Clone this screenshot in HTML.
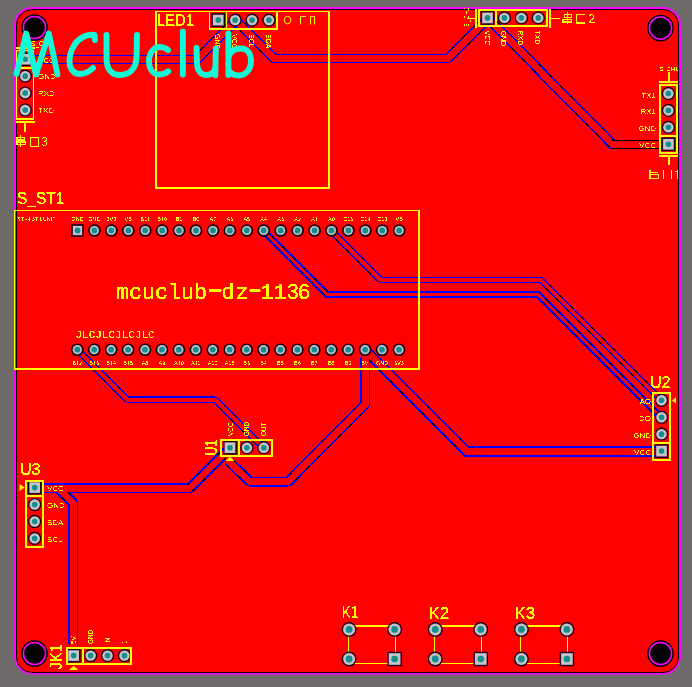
<!DOCTYPE html><html><head><meta charset="utf-8"><style>html,body{margin:0;padding:0;background:#6e6a69;width:692px;height:687px;overflow:hidden}svg{display:block}text{font-family:"Liberation Sans",sans-serif}</style></head><body>
<svg width="692" height="687" viewBox="0 0 692 687">
<defs><filter id="th" x="-10%" y="-10%" width="120%" height="120%" color-interpolation-filters="sRGB"><feComponentTransfer><feFuncA type="discrete" tableValues="0 1"/></feComponentTransfer></filter><filter id="th2" x="-10%" y="-10%" width="120%" height="120%" color-interpolation-filters="sRGB"><feComponentTransfer><feFuncA type="discrete" tableValues="0 0 1"/></feComponentTransfer></filter></defs>
<rect width="692" height="687" fill="#6e6a69"/>
<rect x="15" y="8" width="665" height="665.5" rx="17" fill="none" stroke="#ff00ff" stroke-width="2"/>
<rect x="16.5" y="9.5" width="662" height="663" rx="15.5" fill="#ff0000" stroke="#000" stroke-width="1"/>
<circle cx="34.5" cy="27.5" r="13.3" fill="#000"/><circle cx="34.5" cy="27.5" r="11.1" fill="none" stroke="#ff00ff" stroke-width="1.5"/>
<circle cx="660.5" cy="28" r="13.3" fill="#000"/><circle cx="660.5" cy="28" r="11.1" fill="none" stroke="#ff00ff" stroke-width="1.5"/>
<circle cx="34.5" cy="653.5" r="13.3" fill="#000"/><circle cx="34.5" cy="653.5" r="11.1" fill="none" stroke="#ff00ff" stroke-width="1.5"/>
<circle cx="660.5" cy="653.5" r="13.3" fill="#000"/><circle cx="660.5" cy="653.5" r="11.1" fill="none" stroke="#ff00ff" stroke-width="1.5"/>
<g fill="none" stroke-linejoin="miter" stroke-linecap="butt" shape-rendering="crispEdges">
<polyline points="25.2,59.5 197,59.5 235.1,21.4" stroke="#0000ff" stroke-width="9"/>
<polyline points="235.1,20 273.6,58.5 448,58.5 487.4,19.1" stroke="#0000ff" stroke-width="9"/>
<polyline points="487.4,17.7 612.5,144.5 668.3,144.5" stroke="#0000ff" stroke-width="9"/>
<polyline points="331.3,231 380.3,280 541,280 661.5,400.5" stroke="#0000ff" stroke-width="6"/>
<polyline points="263.7,231 327.2,294.5 538.2,294.5 661.5,417.8" stroke="#0000ff" stroke-width="7"/>
<polyline points="365.2,350 466.7,451.5 661.5,451.5" stroke="#0000ff" stroke-width="11"/>
<polyline points="365.5,350 365.5,404 288.5,481.5 249.5,481.5 229.9,462 229.9,448" stroke="#0000ff" stroke-width="9"/>
<polyline points="230,448 189.5,488.5 34.7,488.5" stroke="#0000ff" stroke-width="9"/>
<polyline points="58.5,488.5 73.5,503.5 73.5,655.6" stroke="#0000ff" stroke-width="9"/>
<polyline points="77.3,349.7 127.6,400 215.3,400 263.5,448.2" stroke="#0000ff" stroke-width="6"/>
<line x1="197" y1="59.5" x2="235.1" y2="21.4" stroke="#0000ff" stroke-width="10"/>
<line x1="197" y1="59.5" x2="235.1" y2="21.4" stroke="#000" stroke-width="9.2" stroke-dasharray="4 11" stroke-dashoffset="6"/>
<line x1="235.1" y1="20" x2="273.6" y2="58.5" stroke="#0000ff" stroke-width="10"/>
<line x1="235.1" y1="20" x2="273.6" y2="58.5" stroke="#000" stroke-width="9.2" stroke-dasharray="4 11" stroke-dashoffset="6"/>
<line x1="448" y1="58.5" x2="487.4" y2="19.1" stroke="#0000ff" stroke-width="10"/>
<line x1="448" y1="58.5" x2="487.4" y2="19.1" stroke="#000" stroke-width="9.2" stroke-dasharray="4 11" stroke-dashoffset="6"/>
<line x1="487.4" y1="17.7" x2="612.5" y2="144.5" stroke="#0000ff" stroke-width="10"/>
<line x1="487.4" y1="17.7" x2="612.5" y2="144.5" stroke="#000" stroke-width="9.2" stroke-dasharray="4 11" stroke-dashoffset="6"/>
<line x1="331.3" y1="231" x2="380.3" y2="280" stroke="#0000ff" stroke-width="7"/>
<line x1="331.3" y1="231" x2="380.3" y2="280" stroke="#000" stroke-width="6.2" stroke-dasharray="4 11" stroke-dashoffset="6"/>
<line x1="541" y1="280" x2="661.5" y2="400.5" stroke="#0000ff" stroke-width="7"/>
<line x1="541" y1="280" x2="661.5" y2="400.5" stroke="#000" stroke-width="6.2" stroke-dasharray="4 11" stroke-dashoffset="6"/>
<line x1="263.7" y1="231" x2="327.2" y2="294.5" stroke="#0000ff" stroke-width="6"/>
<line x1="263.7" y1="231" x2="327.2" y2="294.5" stroke="#000" stroke-width="5.2" stroke-dasharray="4 11" stroke-dashoffset="6"/>
<line x1="538.2" y1="294.5" x2="661.5" y2="417.8" stroke="#0000ff" stroke-width="6"/>
<line x1="538.2" y1="294.5" x2="661.5" y2="417.8" stroke="#000" stroke-width="5.2" stroke-dasharray="4 11" stroke-dashoffset="6"/>
<line x1="365.2" y1="350" x2="466.7" y2="451.5" stroke="#0000ff" stroke-width="10"/>
<line x1="365.2" y1="350" x2="466.7" y2="451.5" stroke="#000" stroke-width="9.2" stroke-dasharray="4 11" stroke-dashoffset="6"/>
<line x1="365.5" y1="404" x2="288.5" y2="481.5" stroke="#0000ff" stroke-width="10"/>
<line x1="365.5" y1="404" x2="288.5" y2="481.5" stroke="#000" stroke-width="9.2" stroke-dasharray="4 11" stroke-dashoffset="6"/>
<line x1="249.5" y1="481.5" x2="229.9" y2="462" stroke="#0000ff" stroke-width="10"/>
<line x1="249.5" y1="481.5" x2="229.9" y2="462" stroke="#000" stroke-width="9.2" stroke-dasharray="4 11" stroke-dashoffset="6"/>
<line x1="230" y1="448" x2="189.5" y2="488.5" stroke="#0000ff" stroke-width="10"/>
<line x1="230" y1="448" x2="189.5" y2="488.5" stroke="#000" stroke-width="9.2" stroke-dasharray="4 11" stroke-dashoffset="6"/>
<line x1="58.5" y1="488.5" x2="73.5" y2="503.5" stroke="#0000ff" stroke-width="10"/>
<line x1="58.5" y1="488.5" x2="73.5" y2="503.5" stroke="#000" stroke-width="9.2" stroke-dasharray="4 11" stroke-dashoffset="6"/>
<line x1="77.3" y1="349.7" x2="127.6" y2="400" stroke="#0000ff" stroke-width="7"/>
<line x1="77.3" y1="349.7" x2="127.6" y2="400" stroke="#000" stroke-width="6.2" stroke-dasharray="4 11" stroke-dashoffset="6"/>
<line x1="215.3" y1="400" x2="263.5" y2="448.2" stroke="#0000ff" stroke-width="7"/>
<line x1="215.3" y1="400" x2="263.5" y2="448.2" stroke="#000" stroke-width="6.2" stroke-dasharray="4 11" stroke-dashoffset="6"/>
<polyline points="25.2,59.5 197,59.5 235.1,21.4" stroke="#ff0000" stroke-width="7"/>
<polyline points="235.1,20 273.6,58.5 448,58.5 487.4,19.1" stroke="#ff0000" stroke-width="7"/>
<polyline points="487.4,17.7 612.5,144.5 668.3,144.5" stroke="#ff0000" stroke-width="7"/>
<polyline points="331.3,231 380.3,280 541,280 661.5,400.5" stroke="#ff0000" stroke-width="4"/>
<polyline points="263.7,231 327.2,294.5 538.2,294.5 661.5,417.8" stroke="#ff0000" stroke-width="3"/>
<polyline points="365.2,350 466.7,451.5 661.5,451.5" stroke="#ff0000" stroke-width="7"/>
<polyline points="365.5,350 365.5,404 288.5,481.5 249.5,481.5 229.9,462 229.9,448" stroke="#ff0000" stroke-width="7"/>
<polyline points="230,448 189.5,488.5 34.7,488.5" stroke="#ff0000" stroke-width="7"/>
<polyline points="58.5,488.5 73.5,503.5 73.5,655.6" stroke="#ff0000" stroke-width="7"/>
<polyline points="77.3,349.7 127.6,400 215.3,400 263.5,448.2" stroke="#ff0000" stroke-width="4"/>
</g>
<rect x="43" y="483" width="144" height="1" fill="#0000ff"/>
<rect x="129" y="396" width="86" height="1" fill="#0000ff"/>
<rect x="360" y="357" width="1" height="45" fill="#0000ff"/>
<rect x="250" y="486" width="38" height="1" fill="#0000ff"/>
<rect x="68" y="504" width="1" height="140" fill="#0000ff"/>
<rect x="612" y="140" width="48" height="1" fill="#000"/>
<rect x="612" y="148" width="48" height="1" fill="#000"/>
<rect x="348" y="625" width="48" height="2" fill="#ffff00"/>
<rect x="348" y="663" width="48" height="1" fill="#ffff00"/>
<rect x="348" y="626" width="1" height="38" fill="#ffff00"/>
<rect x="395" y="626" width="1" height="38" fill="#ffff00"/>
<rect x="434" y="625" width="48" height="2" fill="#ffff00"/>
<rect x="434" y="663" width="48" height="1" fill="#ffff00"/>
<rect x="434" y="626" width="1" height="38" fill="#ffff00"/>
<rect x="481" y="626" width="1" height="38" fill="#ffff00"/>
<rect x="520" y="625" width="48" height="2" fill="#ffff00"/>
<rect x="520" y="663" width="48" height="1" fill="#ffff00"/>
<rect x="520" y="626" width="1" height="38" fill="#ffff00"/>
<rect x="567" y="626" width="1" height="38" fill="#ffff00"/>
<rect x="71.20" y="224.20" width="12.60" height="12.60" fill="#000"/><rect x="72.40" y="225.40" width="10.20" height="10.20" fill="#5a005a"/><rect x="72.90" y="225.90" width="9.20" height="9.20" fill="#c4c4c4"/><circle cx="77.50" cy="230.50" r="2.9" fill="#108f8c"/>
<circle cx="77.30" cy="349.70" r="6.3" fill="#000"/><circle cx="77.30" cy="349.70" r="5.1" fill="#5a005a"/><circle cx="77.30" cy="349.70" r="4.6" fill="#c4c4c4"/><circle cx="77.30" cy="349.70" r="2.9" fill="#108f8c"/>
<circle cx="94.43" cy="230.50" r="6.3" fill="#000"/><circle cx="94.43" cy="230.50" r="5.1" fill="#5a005a"/><circle cx="94.43" cy="230.50" r="4.6" fill="#c4c4c4"/><circle cx="94.43" cy="230.50" r="2.9" fill="#108f8c"/>
<circle cx="94.23" cy="349.70" r="6.3" fill="#000"/><circle cx="94.23" cy="349.70" r="5.1" fill="#5a005a"/><circle cx="94.23" cy="349.70" r="4.6" fill="#c4c4c4"/><circle cx="94.23" cy="349.70" r="2.9" fill="#108f8c"/>
<circle cx="111.36" cy="230.50" r="6.3" fill="#000"/><circle cx="111.36" cy="230.50" r="5.1" fill="#5a005a"/><circle cx="111.36" cy="230.50" r="4.6" fill="#c4c4c4"/><circle cx="111.36" cy="230.50" r="2.9" fill="#108f8c"/>
<circle cx="111.16" cy="349.70" r="6.3" fill="#000"/><circle cx="111.16" cy="349.70" r="5.1" fill="#5a005a"/><circle cx="111.16" cy="349.70" r="4.6" fill="#c4c4c4"/><circle cx="111.16" cy="349.70" r="2.9" fill="#108f8c"/>
<circle cx="128.29" cy="230.50" r="6.3" fill="#000"/><circle cx="128.29" cy="230.50" r="5.1" fill="#5a005a"/><circle cx="128.29" cy="230.50" r="4.6" fill="#c4c4c4"/><circle cx="128.29" cy="230.50" r="2.9" fill="#108f8c"/>
<circle cx="128.09" cy="349.70" r="6.3" fill="#000"/><circle cx="128.09" cy="349.70" r="5.1" fill="#5a005a"/><circle cx="128.09" cy="349.70" r="4.6" fill="#c4c4c4"/><circle cx="128.09" cy="349.70" r="2.9" fill="#108f8c"/>
<circle cx="145.22" cy="230.50" r="6.3" fill="#000"/><circle cx="145.22" cy="230.50" r="5.1" fill="#5a005a"/><circle cx="145.22" cy="230.50" r="4.6" fill="#c4c4c4"/><circle cx="145.22" cy="230.50" r="2.9" fill="#108f8c"/>
<circle cx="145.02" cy="349.70" r="6.3" fill="#000"/><circle cx="145.02" cy="349.70" r="5.1" fill="#5a005a"/><circle cx="145.02" cy="349.70" r="4.6" fill="#c4c4c4"/><circle cx="145.02" cy="349.70" r="2.9" fill="#108f8c"/>
<circle cx="162.15" cy="230.50" r="6.3" fill="#000"/><circle cx="162.15" cy="230.50" r="5.1" fill="#5a005a"/><circle cx="162.15" cy="230.50" r="4.6" fill="#c4c4c4"/><circle cx="162.15" cy="230.50" r="2.9" fill="#108f8c"/>
<circle cx="161.95" cy="349.70" r="6.3" fill="#000"/><circle cx="161.95" cy="349.70" r="5.1" fill="#5a005a"/><circle cx="161.95" cy="349.70" r="4.6" fill="#c4c4c4"/><circle cx="161.95" cy="349.70" r="2.9" fill="#108f8c"/>
<circle cx="179.08" cy="230.50" r="6.3" fill="#000"/><circle cx="179.08" cy="230.50" r="5.1" fill="#5a005a"/><circle cx="179.08" cy="230.50" r="4.6" fill="#c4c4c4"/><circle cx="179.08" cy="230.50" r="2.9" fill="#108f8c"/>
<circle cx="178.88" cy="349.70" r="6.3" fill="#000"/><circle cx="178.88" cy="349.70" r="5.1" fill="#5a005a"/><circle cx="178.88" cy="349.70" r="4.6" fill="#c4c4c4"/><circle cx="178.88" cy="349.70" r="2.9" fill="#108f8c"/>
<circle cx="196.01" cy="230.50" r="6.3" fill="#000"/><circle cx="196.01" cy="230.50" r="5.1" fill="#5a005a"/><circle cx="196.01" cy="230.50" r="4.6" fill="#c4c4c4"/><circle cx="196.01" cy="230.50" r="2.9" fill="#108f8c"/>
<circle cx="195.81" cy="349.70" r="6.3" fill="#000"/><circle cx="195.81" cy="349.70" r="5.1" fill="#5a005a"/><circle cx="195.81" cy="349.70" r="4.6" fill="#c4c4c4"/><circle cx="195.81" cy="349.70" r="2.9" fill="#108f8c"/>
<circle cx="212.94" cy="230.50" r="6.3" fill="#000"/><circle cx="212.94" cy="230.50" r="5.1" fill="#5a005a"/><circle cx="212.94" cy="230.50" r="4.6" fill="#c4c4c4"/><circle cx="212.94" cy="230.50" r="2.9" fill="#108f8c"/>
<circle cx="212.74" cy="349.70" r="6.3" fill="#000"/><circle cx="212.74" cy="349.70" r="5.1" fill="#5a005a"/><circle cx="212.74" cy="349.70" r="4.6" fill="#c4c4c4"/><circle cx="212.74" cy="349.70" r="2.9" fill="#108f8c"/>
<circle cx="229.87" cy="230.50" r="6.3" fill="#000"/><circle cx="229.87" cy="230.50" r="5.1" fill="#5a005a"/><circle cx="229.87" cy="230.50" r="4.6" fill="#c4c4c4"/><circle cx="229.87" cy="230.50" r="2.9" fill="#108f8c"/>
<circle cx="229.67" cy="349.70" r="6.3" fill="#000"/><circle cx="229.67" cy="349.70" r="5.1" fill="#5a005a"/><circle cx="229.67" cy="349.70" r="4.6" fill="#c4c4c4"/><circle cx="229.67" cy="349.70" r="2.9" fill="#108f8c"/>
<circle cx="246.80" cy="230.50" r="6.3" fill="#000"/><circle cx="246.80" cy="230.50" r="5.1" fill="#5a005a"/><circle cx="246.80" cy="230.50" r="4.6" fill="#c4c4c4"/><circle cx="246.80" cy="230.50" r="2.9" fill="#108f8c"/>
<circle cx="246.60" cy="349.70" r="6.3" fill="#000"/><circle cx="246.60" cy="349.70" r="5.1" fill="#5a005a"/><circle cx="246.60" cy="349.70" r="4.6" fill="#c4c4c4"/><circle cx="246.60" cy="349.70" r="2.9" fill="#108f8c"/>
<circle cx="263.73" cy="230.50" r="6.3" fill="#000"/><circle cx="263.73" cy="230.50" r="5.1" fill="#5a005a"/><circle cx="263.73" cy="230.50" r="4.6" fill="#c4c4c4"/><circle cx="263.73" cy="230.50" r="2.9" fill="#108f8c"/>
<circle cx="263.53" cy="349.70" r="6.3" fill="#000"/><circle cx="263.53" cy="349.70" r="5.1" fill="#5a005a"/><circle cx="263.53" cy="349.70" r="4.6" fill="#c4c4c4"/><circle cx="263.53" cy="349.70" r="2.9" fill="#108f8c"/>
<circle cx="280.66" cy="230.50" r="6.3" fill="#000"/><circle cx="280.66" cy="230.50" r="5.1" fill="#5a005a"/><circle cx="280.66" cy="230.50" r="4.6" fill="#c4c4c4"/><circle cx="280.66" cy="230.50" r="2.9" fill="#108f8c"/>
<circle cx="280.46" cy="349.70" r="6.3" fill="#000"/><circle cx="280.46" cy="349.70" r="5.1" fill="#5a005a"/><circle cx="280.46" cy="349.70" r="4.6" fill="#c4c4c4"/><circle cx="280.46" cy="349.70" r="2.9" fill="#108f8c"/>
<circle cx="297.59" cy="230.50" r="6.3" fill="#000"/><circle cx="297.59" cy="230.50" r="5.1" fill="#5a005a"/><circle cx="297.59" cy="230.50" r="4.6" fill="#c4c4c4"/><circle cx="297.59" cy="230.50" r="2.9" fill="#108f8c"/>
<circle cx="297.39" cy="349.70" r="6.3" fill="#000"/><circle cx="297.39" cy="349.70" r="5.1" fill="#5a005a"/><circle cx="297.39" cy="349.70" r="4.6" fill="#c4c4c4"/><circle cx="297.39" cy="349.70" r="2.9" fill="#108f8c"/>
<circle cx="314.52" cy="230.50" r="6.3" fill="#000"/><circle cx="314.52" cy="230.50" r="5.1" fill="#5a005a"/><circle cx="314.52" cy="230.50" r="4.6" fill="#c4c4c4"/><circle cx="314.52" cy="230.50" r="2.9" fill="#108f8c"/>
<circle cx="314.32" cy="349.70" r="6.3" fill="#000"/><circle cx="314.32" cy="349.70" r="5.1" fill="#5a005a"/><circle cx="314.32" cy="349.70" r="4.6" fill="#c4c4c4"/><circle cx="314.32" cy="349.70" r="2.9" fill="#108f8c"/>
<circle cx="331.45" cy="230.50" r="6.3" fill="#000"/><circle cx="331.45" cy="230.50" r="5.1" fill="#5a005a"/><circle cx="331.45" cy="230.50" r="4.6" fill="#c4c4c4"/><circle cx="331.45" cy="230.50" r="2.9" fill="#108f8c"/>
<circle cx="331.25" cy="349.70" r="6.3" fill="#000"/><circle cx="331.25" cy="349.70" r="5.1" fill="#5a005a"/><circle cx="331.25" cy="349.70" r="4.6" fill="#c4c4c4"/><circle cx="331.25" cy="349.70" r="2.9" fill="#108f8c"/>
<circle cx="348.38" cy="230.50" r="6.3" fill="#000"/><circle cx="348.38" cy="230.50" r="5.1" fill="#5a005a"/><circle cx="348.38" cy="230.50" r="4.6" fill="#c4c4c4"/><circle cx="348.38" cy="230.50" r="2.9" fill="#108f8c"/>
<circle cx="348.18" cy="349.70" r="6.3" fill="#000"/><circle cx="348.18" cy="349.70" r="5.1" fill="#5a005a"/><circle cx="348.18" cy="349.70" r="4.6" fill="#c4c4c4"/><circle cx="348.18" cy="349.70" r="2.9" fill="#108f8c"/>
<circle cx="365.31" cy="230.50" r="6.3" fill="#000"/><circle cx="365.31" cy="230.50" r="5.1" fill="#5a005a"/><circle cx="365.31" cy="230.50" r="4.6" fill="#c4c4c4"/><circle cx="365.31" cy="230.50" r="2.9" fill="#108f8c"/>
<circle cx="365.11" cy="349.70" r="6.3" fill="#000"/><circle cx="365.11" cy="349.70" r="5.1" fill="#5a005a"/><circle cx="365.11" cy="349.70" r="4.6" fill="#c4c4c4"/><circle cx="365.11" cy="349.70" r="2.9" fill="#108f8c"/>
<circle cx="382.24" cy="230.50" r="6.3" fill="#000"/><circle cx="382.24" cy="230.50" r="5.1" fill="#5a005a"/><circle cx="382.24" cy="230.50" r="4.6" fill="#c4c4c4"/><circle cx="382.24" cy="230.50" r="2.9" fill="#108f8c"/>
<circle cx="382.04" cy="349.70" r="6.3" fill="#000"/><circle cx="382.04" cy="349.70" r="5.1" fill="#5a005a"/><circle cx="382.04" cy="349.70" r="4.6" fill="#c4c4c4"/><circle cx="382.04" cy="349.70" r="2.9" fill="#108f8c"/>
<circle cx="399.17" cy="230.50" r="6.3" fill="#000"/><circle cx="399.17" cy="230.50" r="5.1" fill="#5a005a"/><circle cx="399.17" cy="230.50" r="4.6" fill="#c4c4c4"/><circle cx="399.17" cy="230.50" r="2.9" fill="#108f8c"/>
<circle cx="398.97" cy="349.70" r="6.3" fill="#000"/><circle cx="398.97" cy="349.70" r="5.1" fill="#5a005a"/><circle cx="398.97" cy="349.70" r="4.6" fill="#c4c4c4"/><circle cx="398.97" cy="349.70" r="2.9" fill="#108f8c"/>
<rect x="211.40" y="13.30" width="13.60" height="13.60" fill="#000"/><rect x="212.40" y="14.30" width="11.60" height="11.60" fill="#5a005a"/><rect x="212.90" y="14.80" width="10.60" height="10.60" fill="#c4c4c4"/><circle cx="218.20" cy="20.10" r="2.8" fill="#108f8c"/>
<rect x="480.70" y="11.10" width="13.60" height="13.60" fill="#000"/><rect x="481.70" y="12.10" width="11.60" height="11.60" fill="#5a005a"/><rect x="482.20" y="12.60" width="10.60" height="10.60" fill="#c4c4c4"/><circle cx="487.50" cy="17.90" r="2.8" fill="#108f8c"/>
<circle cx="668.40" cy="93.50" r="6.6" fill="#000"/><circle cx="668.40" cy="93.50" r="5.7" fill="#5a005a"/><circle cx="668.40" cy="93.50" r="5.2" fill="#c4c4c4"/><circle cx="668.40" cy="93.50" r="2.8" fill="#108f8c"/>
<rect x="18.40" y="52.40" width="13.60" height="13.60" fill="#000"/><rect x="19.40" y="53.40" width="11.60" height="11.60" fill="#5a005a"/><rect x="19.90" y="53.90" width="10.60" height="10.60" fill="#c4c4c4"/><circle cx="25.20" cy="59.20" r="2.8" fill="#108f8c"/>
<circle cx="661.50" cy="400.30" r="6.6" fill="#000"/><circle cx="661.50" cy="400.30" r="5.7" fill="#5a005a"/><circle cx="661.50" cy="400.30" r="5.2" fill="#c4c4c4"/><circle cx="661.50" cy="400.30" r="2.8" fill="#108f8c"/>
<rect x="27.90" y="480.80" width="13.60" height="13.60" fill="#000"/><rect x="28.90" y="481.80" width="11.60" height="11.60" fill="#5a005a"/><rect x="29.40" y="482.30" width="10.60" height="10.60" fill="#c4c4c4"/><circle cx="34.70" cy="487.60" r="2.8" fill="#108f8c"/>
<rect x="66.90" y="648.80" width="13.60" height="13.60" fill="#000"/><rect x="67.90" y="649.80" width="11.60" height="11.60" fill="#5a005a"/><rect x="68.40" y="650.30" width="10.60" height="10.60" fill="#c4c4c4"/><circle cx="73.70" cy="655.60" r="2.8" fill="#108f8c"/>
<circle cx="235.13" cy="20.10" r="6.6" fill="#000"/><circle cx="235.13" cy="20.10" r="5.7" fill="#5a005a"/><circle cx="235.13" cy="20.10" r="5.2" fill="#c4c4c4"/><circle cx="235.13" cy="20.10" r="2.8" fill="#108f8c"/>
<circle cx="504.43" cy="17.90" r="6.6" fill="#000"/><circle cx="504.43" cy="17.90" r="5.7" fill="#5a005a"/><circle cx="504.43" cy="17.90" r="5.2" fill="#c4c4c4"/><circle cx="504.43" cy="17.90" r="2.8" fill="#108f8c"/>
<circle cx="668.40" cy="110.43" r="6.6" fill="#000"/><circle cx="668.40" cy="110.43" r="5.7" fill="#5a005a"/><circle cx="668.40" cy="110.43" r="5.2" fill="#c4c4c4"/><circle cx="668.40" cy="110.43" r="2.8" fill="#108f8c"/>
<circle cx="25.20" cy="76.13" r="6.6" fill="#000"/><circle cx="25.20" cy="76.13" r="5.7" fill="#5a005a"/><circle cx="25.20" cy="76.13" r="5.2" fill="#c4c4c4"/><circle cx="25.20" cy="76.13" r="2.8" fill="#108f8c"/>
<circle cx="661.50" cy="417.23" r="6.6" fill="#000"/><circle cx="661.50" cy="417.23" r="5.7" fill="#5a005a"/><circle cx="661.50" cy="417.23" r="5.2" fill="#c4c4c4"/><circle cx="661.50" cy="417.23" r="2.8" fill="#108f8c"/>
<circle cx="34.70" cy="504.53" r="6.6" fill="#000"/><circle cx="34.70" cy="504.53" r="5.7" fill="#5a005a"/><circle cx="34.70" cy="504.53" r="5.2" fill="#c4c4c4"/><circle cx="34.70" cy="504.53" r="2.8" fill="#108f8c"/>
<circle cx="90.63" cy="655.60" r="6.6" fill="#000"/><circle cx="90.63" cy="655.60" r="5.7" fill="#5a005a"/><circle cx="90.63" cy="655.60" r="5.2" fill="#c4c4c4"/><circle cx="90.63" cy="655.60" r="2.8" fill="#108f8c"/>
<circle cx="252.06" cy="20.10" r="6.6" fill="#000"/><circle cx="252.06" cy="20.10" r="5.7" fill="#5a005a"/><circle cx="252.06" cy="20.10" r="5.2" fill="#c4c4c4"/><circle cx="252.06" cy="20.10" r="2.8" fill="#108f8c"/>
<circle cx="521.36" cy="17.90" r="6.6" fill="#000"/><circle cx="521.36" cy="17.90" r="5.7" fill="#5a005a"/><circle cx="521.36" cy="17.90" r="5.2" fill="#c4c4c4"/><circle cx="521.36" cy="17.90" r="2.8" fill="#108f8c"/>
<circle cx="668.40" cy="127.36" r="6.6" fill="#000"/><circle cx="668.40" cy="127.36" r="5.7" fill="#5a005a"/><circle cx="668.40" cy="127.36" r="5.2" fill="#c4c4c4"/><circle cx="668.40" cy="127.36" r="2.8" fill="#108f8c"/>
<circle cx="25.20" cy="93.06" r="6.6" fill="#000"/><circle cx="25.20" cy="93.06" r="5.7" fill="#5a005a"/><circle cx="25.20" cy="93.06" r="5.2" fill="#c4c4c4"/><circle cx="25.20" cy="93.06" r="2.8" fill="#108f8c"/>
<circle cx="661.50" cy="434.16" r="6.6" fill="#000"/><circle cx="661.50" cy="434.16" r="5.7" fill="#5a005a"/><circle cx="661.50" cy="434.16" r="5.2" fill="#c4c4c4"/><circle cx="661.50" cy="434.16" r="2.8" fill="#108f8c"/>
<circle cx="34.70" cy="521.46" r="6.6" fill="#000"/><circle cx="34.70" cy="521.46" r="5.7" fill="#5a005a"/><circle cx="34.70" cy="521.46" r="5.2" fill="#c4c4c4"/><circle cx="34.70" cy="521.46" r="2.8" fill="#108f8c"/>
<circle cx="107.56" cy="655.60" r="6.6" fill="#000"/><circle cx="107.56" cy="655.60" r="5.7" fill="#5a005a"/><circle cx="107.56" cy="655.60" r="5.2" fill="#c4c4c4"/><circle cx="107.56" cy="655.60" r="2.8" fill="#108f8c"/>
<circle cx="268.99" cy="20.10" r="6.6" fill="#000"/><circle cx="268.99" cy="20.10" r="5.7" fill="#5a005a"/><circle cx="268.99" cy="20.10" r="5.2" fill="#c4c4c4"/><circle cx="268.99" cy="20.10" r="2.8" fill="#108f8c"/>
<circle cx="538.29" cy="17.90" r="6.6" fill="#000"/><circle cx="538.29" cy="17.90" r="5.7" fill="#5a005a"/><circle cx="538.29" cy="17.90" r="5.2" fill="#c4c4c4"/><circle cx="538.29" cy="17.90" r="2.8" fill="#108f8c"/>
<rect x="661.60" y="137.49" width="13.60" height="13.60" fill="#000"/><rect x="662.60" y="138.49" width="11.60" height="11.60" fill="#5a005a"/><rect x="663.10" y="138.99" width="10.60" height="10.60" fill="#c4c4c4"/><circle cx="668.40" cy="144.29" r="2.8" fill="#108f8c"/>
<circle cx="25.20" cy="109.99" r="6.6" fill="#000"/><circle cx="25.20" cy="109.99" r="5.7" fill="#5a005a"/><circle cx="25.20" cy="109.99" r="5.2" fill="#c4c4c4"/><circle cx="25.20" cy="109.99" r="2.8" fill="#108f8c"/>
<rect x="654.70" y="444.29" width="13.60" height="13.60" fill="#000"/><rect x="655.70" y="445.29" width="11.60" height="11.60" fill="#5a005a"/><rect x="656.20" y="445.79" width="10.60" height="10.60" fill="#c4c4c4"/><circle cx="661.50" cy="451.09" r="2.8" fill="#108f8c"/>
<circle cx="34.70" cy="538.39" r="6.6" fill="#000"/><circle cx="34.70" cy="538.39" r="5.7" fill="#5a005a"/><circle cx="34.70" cy="538.39" r="5.2" fill="#c4c4c4"/><circle cx="34.70" cy="538.39" r="2.8" fill="#108f8c"/>
<circle cx="124.49" cy="655.60" r="6.6" fill="#000"/><circle cx="124.49" cy="655.60" r="5.7" fill="#5a005a"/><circle cx="124.49" cy="655.60" r="5.2" fill="#c4c4c4"/><circle cx="124.49" cy="655.60" r="2.8" fill="#108f8c"/>
<rect x="223.20" y="440.90" width="13.60" height="13.60" fill="#000"/><rect x="224.20" y="441.90" width="11.60" height="11.60" fill="#5a005a"/><rect x="224.70" y="442.40" width="10.60" height="10.60" fill="#c4c4c4"/><circle cx="230.00" cy="447.70" r="2.8" fill="#108f8c"/>
<circle cx="246.93" cy="447.70" r="6.6" fill="#000"/><circle cx="246.93" cy="447.70" r="5.7" fill="#5a005a"/><circle cx="246.93" cy="447.70" r="5.2" fill="#c4c4c4"/><circle cx="246.93" cy="447.70" r="2.8" fill="#108f8c"/>
<circle cx="263.86" cy="447.70" r="6.6" fill="#000"/><circle cx="263.86" cy="447.70" r="5.7" fill="#5a005a"/><circle cx="263.86" cy="447.70" r="5.2" fill="#c4c4c4"/><circle cx="263.86" cy="447.70" r="2.8" fill="#108f8c"/>
<circle cx="349.10" cy="629.40" r="7.4" fill="#000"/><circle cx="349.10" cy="629.40" r="6.5" fill="#5a005a"/><circle cx="349.10" cy="629.40" r="6.0" fill="#c4c4c4"/><circle cx="349.10" cy="629.40" r="3.4" fill="#108f8c"/>
<circle cx="394.60" cy="629.40" r="7.4" fill="#000"/><circle cx="394.60" cy="629.40" r="6.5" fill="#5a005a"/><circle cx="394.60" cy="629.40" r="6.0" fill="#c4c4c4"/><circle cx="394.60" cy="629.40" r="3.4" fill="#108f8c"/>
<circle cx="349.10" cy="659.00" r="7.4" fill="#000"/><circle cx="349.10" cy="659.00" r="6.5" fill="#5a005a"/><circle cx="349.10" cy="659.00" r="6.0" fill="#c4c4c4"/><circle cx="349.10" cy="659.00" r="3.4" fill="#108f8c"/>
<rect x="387.40" y="651.80" width="14.40" height="14.40" fill="#000"/><rect x="388.30" y="652.70" width="12.60" height="12.60" fill="#5a005a"/><rect x="388.80" y="653.20" width="11.60" height="11.60" fill="#c4c4c4"/><circle cx="394.60" cy="659.00" r="3.3" fill="#108f8c"/>
<circle cx="435.25" cy="629.40" r="7.4" fill="#000"/><circle cx="435.25" cy="629.40" r="6.5" fill="#5a005a"/><circle cx="435.25" cy="629.40" r="6.0" fill="#c4c4c4"/><circle cx="435.25" cy="629.40" r="3.4" fill="#108f8c"/>
<circle cx="480.75" cy="629.40" r="7.4" fill="#000"/><circle cx="480.75" cy="629.40" r="6.5" fill="#5a005a"/><circle cx="480.75" cy="629.40" r="6.0" fill="#c4c4c4"/><circle cx="480.75" cy="629.40" r="3.4" fill="#108f8c"/>
<circle cx="435.25" cy="659.00" r="7.4" fill="#000"/><circle cx="435.25" cy="659.00" r="6.5" fill="#5a005a"/><circle cx="435.25" cy="659.00" r="6.0" fill="#c4c4c4"/><circle cx="435.25" cy="659.00" r="3.4" fill="#108f8c"/>
<rect x="473.55" y="651.80" width="14.40" height="14.40" fill="#000"/><rect x="474.45" y="652.70" width="12.60" height="12.60" fill="#5a005a"/><rect x="474.95" y="653.20" width="11.60" height="11.60" fill="#c4c4c4"/><circle cx="480.75" cy="659.00" r="3.3" fill="#108f8c"/>
<circle cx="521.40" cy="629.40" r="7.4" fill="#000"/><circle cx="521.40" cy="629.40" r="6.5" fill="#5a005a"/><circle cx="521.40" cy="629.40" r="6.0" fill="#c4c4c4"/><circle cx="521.40" cy="629.40" r="3.4" fill="#108f8c"/>
<circle cx="566.90" cy="629.40" r="7.4" fill="#000"/><circle cx="566.90" cy="629.40" r="6.5" fill="#5a005a"/><circle cx="566.90" cy="629.40" r="6.0" fill="#c4c4c4"/><circle cx="566.90" cy="629.40" r="3.4" fill="#108f8c"/>
<circle cx="521.40" cy="659.00" r="7.4" fill="#000"/><circle cx="521.40" cy="659.00" r="6.5" fill="#5a005a"/><circle cx="521.40" cy="659.00" r="6.0" fill="#c4c4c4"/><circle cx="521.40" cy="659.00" r="3.4" fill="#108f8c"/>
<rect x="559.70" y="651.80" width="14.40" height="14.40" fill="#000"/><rect x="560.60" y="652.70" width="12.60" height="12.60" fill="#5a005a"/><rect x="561.10" y="653.20" width="11.60" height="11.60" fill="#c4c4c4"/><circle cx="566.90" cy="659.00" r="3.3" fill="#108f8c"/>
<rect x="155" y="11" width="175" height="1" fill="#ffff00"/>
<rect x="155" y="187" width="175" height="2" fill="#ffff00"/>
<rect x="155" y="11" width="2" height="178" fill="#ffff00"/>
<rect x="328" y="11" width="2" height="178" fill="#ffff00"/>
<rect x="209" y="11" width="69" height="1" fill="#ffff00"/>
<rect x="209" y="28" width="69" height="2" fill="#ffff00"/>
<rect x="209" y="11" width="1" height="19" fill="#ffff00"/>
<rect x="276" y="11" width="2" height="19" fill="#ffff00"/>
<rect x="226" y="11" width="1" height="19" fill="#ffff00"/>
<rect x="478" y="9" width="70" height="2" fill="#ffff00"/>
<rect x="478" y="25" width="70" height="2" fill="#ffff00"/>
<rect x="478" y="9" width="2" height="18" fill="#ffff00"/>
<rect x="546" y="9" width="2" height="18" fill="#ffff00"/>
<rect x="495" y="9" width="2" height="18" fill="#ffff00"/>
<rect x="475" y="9" width="2" height="19" fill="#ffff00"/>
<rect x="549" y="9" width="2" height="19" fill="#ffff00"/>
<rect x="467" y="18" width="8" height="1" fill="#ffff00"/>
<rect x="551" y="18" width="9" height="1" fill="#ffff00"/>
<rect x="659" y="84" width="19" height="2" fill="#ffff00"/>
<rect x="659" y="152" width="19" height="2" fill="#ffff00"/>
<rect x="659" y="84" width="2" height="70" fill="#ffff00"/>
<rect x="676" y="84" width="2" height="70" fill="#ffff00"/>
<rect x="659" y="135" width="19" height="2" fill="#ffff00"/>
<rect x="659" y="81" width="19" height="2" fill="#ffff00"/>
<rect x="659" y="155" width="19" height="2" fill="#ffff00"/>
<rect x="668" y="72" width="2" height="9" fill="#ffff00"/>
<rect x="668" y="157" width="2" height="8" fill="#ffff00"/>
<rect x="16" y="50" width="18" height="1" fill="#ffff00"/>
<rect x="16" y="118" width="18" height="2" fill="#ffff00"/>
<rect x="16" y="50" width="1" height="70" fill="#ffff00"/>
<rect x="33" y="50" width="1" height="70" fill="#ffff00"/>
<rect x="16" y="67" width="18" height="2" fill="#ffff00"/>
<rect x="16" y="47" width="19" height="2" fill="#ffff00"/>
<rect x="16" y="121" width="19" height="2" fill="#ffff00"/>
<rect x="24" y="123" width="2" height="9" fill="#ffff00"/>
<rect x="14" y="210" width="406" height="1" fill="#ffff00"/>
<rect x="14" y="368" width="406" height="2" fill="#ffff00"/>
<rect x="14" y="210" width="1" height="160" fill="#ffff00"/>
<rect x="418" y="210" width="2" height="160" fill="#ffff00"/>
<rect x="652" y="392" width="19" height="2" fill="#ffff00"/>
<rect x="652" y="459" width="19" height="2" fill="#ffff00"/>
<rect x="652" y="392" width="2" height="69" fill="#ffff00"/>
<rect x="669" y="392" width="2" height="69" fill="#ffff00"/>
<rect x="652" y="442" width="19" height="2" fill="#ffff00"/>
<rect x="25" y="480" width="19" height="2" fill="#ffff00"/>
<rect x="25" y="546" width="19" height="2" fill="#ffff00"/>
<rect x="25" y="480" width="2" height="68" fill="#ffff00"/>
<rect x="42" y="480" width="2" height="68" fill="#ffff00"/>
<rect x="25" y="495" width="19" height="2" fill="#ffff00"/>
<rect x="220" y="439" width="53" height="2" fill="#ffff00"/>
<rect x="220" y="455" width="53" height="2" fill="#ffff00"/>
<rect x="220" y="439" width="2" height="18" fill="#ffff00"/>
<rect x="271" y="439" width="2" height="18" fill="#ffff00"/>
<rect x="238" y="439" width="2" height="18" fill="#ffff00"/>
<rect x="66" y="647" width="66" height="2" fill="#ffff00"/>
<rect x="66" y="663" width="66" height="2" fill="#ffff00"/>
<rect x="66" y="647" width="2" height="18" fill="#ffff00"/>
<rect x="130" y="647" width="2" height="18" fill="#ffff00"/>
<rect x="82" y="647" width="2" height="18" fill="#ffff00"/>
<rect x="567" y="12" width="1" height="12" fill="#ffff00"/>
<rect x="564" y="14" width="8" height="1" fill="#ffff00"/>
<rect x="564" y="17" width="8" height="1" fill="#ffff00"/>
<rect x="564" y="14" width="1" height="4" fill="#ffff00"/>
<rect x="571" y="14" width="1" height="4" fill="#ffff00"/>
<rect x="562" y="19" width="10" height="1" fill="#ffff00"/>
<rect x="562" y="21" width="10" height="2" fill="#ffff00"/>
<rect x="562" y="19" width="2" height="4" fill="#ffff00"/>
<rect x="571" y="19" width="1" height="4" fill="#ffff00"/>
<rect x="576" y="14" width="9" height="1" fill="#ffff00"/>
<rect x="576" y="22" width="9" height="2" fill="#ffff00"/>
<rect x="576" y="14" width="1" height="10" fill="#ffff00"/>
<rect x="20" y="135" width="1" height="12" fill="#ffff00"/>
<rect x="16" y="137" width="9" height="1" fill="#ffff00"/>
<rect x="16" y="139" width="9" height="2" fill="#ffff00"/>
<rect x="16" y="137" width="2" height="4" fill="#ffff00"/>
<rect x="24" y="137" width="1" height="4" fill="#ffff00"/>
<rect x="16" y="141" width="10" height="2" fill="#ffff00"/>
<rect x="16" y="144" width="10" height="1" fill="#ffff00"/>
<rect x="16" y="141" width="2" height="4" fill="#ffff00"/>
<rect x="25" y="141" width="1" height="4" fill="#ffff00"/>
<rect x="30" y="137" width="9" height="1" fill="#ffff00"/>
<rect x="30" y="146" width="9" height="1" fill="#ffff00"/>
<rect x="30" y="137" width="1" height="10" fill="#ffff00"/>
<rect x="38" y="137" width="1" height="10" fill="#ffff00"/>
<rect x="649" y="170" width="2" height="4" fill="#ffff00"/>
<rect x="649" y="172" width="9" height="1" fill="#ffff00"/>
<rect x="649" y="174" width="10" height="1" fill="#ffff00"/>
<rect x="649" y="178" width="10" height="1" fill="#ffff00"/>
<rect x="649" y="174" width="2" height="5" fill="#ffff00"/>
<rect x="658" y="174" width="1" height="5" fill="#ffff00"/>
<rect x="663" y="170" width="1" height="9" fill="#ffff00"/>
<rect x="671" y="170" width="1" height="9" fill="#ffff00"/>
<rect x="677" y="170" width="1" height="9" fill="#ffff00"/>
<rect x="675" y="171" width="2" height="1" fill="#ffff00"/>
<g fill="#ffff00"><polygon points="672,400.4 676,397.2 676,403.6"/><polygon points="19.5,484 24.5,487.6 19.5,491"/><polygon points="225.5,461 230,456.8 234.5,461"/><polygon points="69.2,670 73.7,665.8 78.2,670"/></g>
<g fill="#ffff00" stroke="#ffff00" stroke-width="0.25" filter="url(#th)">
<text x="157" y="25.8" font-size="16.6" textLength="37" lengthAdjust="spacingAndGlyphs">LED1</text>
<text x="17" y="204" font-size="16" textLength="47.5" lengthAdjust="spacingAndGlyphs">S_ST1</text>
<text x="650" y="387.8" font-size="16">U2</text>
<text x="20" y="474.7" font-size="16">U3</text>
<text x="341.8" y="618.2" font-size="15.8" textLength="16.5" lengthAdjust="spacingAndGlyphs">K1</text>
<text x="428.6" y="618.6" font-size="16.6" textLength="20.6" lengthAdjust="spacingAndGlyphs">K2</text>
<text x="514.6" y="618.6" font-size="16.6" textLength="20.6" lengthAdjust="spacingAndGlyphs">K3</text>
<text transform="translate(217.4,455.5) rotate(-90)" font-size="16.5" textLength="15.5" lengthAdjust="spacingAndGlyphs">U1</text>
<text transform="translate(61.8,669.5) rotate(-90)" font-size="16" textLength="25.5" lengthAdjust="spacingAndGlyphs">JK1</text>
</g>
<g fill="#ffff00" filter="url(#th)">
<text x="116" y="299.3" font-size="21.7" stroke="#ff0" stroke-width="0.3" style="font-family:'Liberation Mono',monospace">mcuclub</text>
<text x="221.4 235.4" y="299.3" font-size="21.7" stroke="#ff0" stroke-width="0.3" style="font-family:'Liberation Mono',monospace">dz</text>
<text x="260.5 273.5 286.2 297.5" y="299.3" font-size="21.7" stroke="#ff0" stroke-width="0.3" style="font-family:'Liberation Mono',monospace">1136</text>
<rect x="209" y="289.3" width="12.7" height="2.2"/><rect x="249.4" y="289.3" width="11.3" height="2.2"/>
<text x="75.5" y="338.4" font-size="11" stroke="#ff0" stroke-width="0.15" style="font-family:'Liberation Mono',monospace">JLCJLCJLCJLC</text>
<text x="41.3" y="146" font-size="12">3</text>
<text x="588.5" y="23.2" font-size="12">2</text>
</g>
<g fill="none" stroke="#ffff00" stroke-width="1">
<ellipse cx="287.5" cy="20.1" rx="3.3" ry="3.8"/>
<path d="M300.5,24.5 V16.5 H306 M310.5,24.5 V16.5 H314.5 V24.5"/>
</g>
<g fill="#ffff00" filter="url(#th)">
<text x="77.5" y="221" font-size="5.5" text-anchor="middle">GND</text>
<text x="77.3" y="365" font-size="5.5" text-anchor="middle">B12</text>
<text x="94.43" y="221" font-size="5.5" text-anchor="middle">GND</text>
<text x="94.22999999999999" y="365" font-size="5.5" text-anchor="middle">B13</text>
<text x="111.36" y="221" font-size="5.5" text-anchor="middle">3V3</text>
<text x="111.16" y="365" font-size="5.5" text-anchor="middle">B14</text>
<text x="128.29" y="221" font-size="5.5" text-anchor="middle">VB</text>
<text x="128.09" y="365" font-size="5.5" text-anchor="middle">B15</text>
<text x="145.22" y="221" font-size="5.5" text-anchor="middle">B11</text>
<text x="145.01999999999998" y="365" font-size="5.5" text-anchor="middle">A8</text>
<text x="162.15" y="221" font-size="5.5" text-anchor="middle">B10</text>
<text x="161.95" y="365" font-size="5.5" text-anchor="middle">A9</text>
<text x="179.07999999999998" y="221" font-size="5.5" text-anchor="middle">B1</text>
<text x="178.88" y="365" font-size="5.5" text-anchor="middle">A10</text>
<text x="196.01" y="221" font-size="5.5" text-anchor="middle">B0</text>
<text x="195.81" y="365" font-size="5.5" text-anchor="middle">A11</text>
<text x="212.94" y="221" font-size="5.5" text-anchor="middle">A7</text>
<text x="212.74" y="365" font-size="5.5" text-anchor="middle">A12</text>
<text x="229.87" y="221" font-size="5.5" text-anchor="middle">A6</text>
<text x="229.67000000000002" y="365" font-size="5.5" text-anchor="middle">A15</text>
<text x="246.8" y="221" font-size="5.5" text-anchor="middle">A5</text>
<text x="246.60000000000002" y="365" font-size="5.5" text-anchor="middle">B3</text>
<text x="263.73" y="221" font-size="5.5" text-anchor="middle">A4</text>
<text x="263.53" y="365" font-size="5.5" text-anchor="middle">B4</text>
<text x="280.65999999999997" y="221" font-size="5.5" text-anchor="middle">A3</text>
<text x="280.46" y="365" font-size="5.5" text-anchor="middle">B5</text>
<text x="297.59000000000003" y="221" font-size="5.5" text-anchor="middle">A2</text>
<text x="297.39" y="365" font-size="5.5" text-anchor="middle">B6</text>
<text x="314.52" y="221" font-size="5.5" text-anchor="middle">A1</text>
<text x="314.32" y="365" font-size="5.5" text-anchor="middle">B7</text>
<text x="331.45" y="221" font-size="5.5" text-anchor="middle">A0</text>
<text x="331.25" y="365" font-size="5.5" text-anchor="middle">B8</text>
<text x="348.38" y="221" font-size="5.5" text-anchor="middle">C15</text>
<text x="348.18" y="365" font-size="5.5" text-anchor="middle">B9</text>
<text x="365.31" y="221" font-size="5.5" text-anchor="middle">C14</text>
<text x="365.11" y="365" font-size="5.5" text-anchor="middle">5V</text>
<text x="382.24" y="221" font-size="5.5" text-anchor="middle">C13</text>
<text x="382.04" y="365" font-size="5.5" text-anchor="middle">GND</text>
<text x="399.17" y="221" font-size="5.5" text-anchor="middle">VB</text>
<text x="398.97" y="365" font-size="5.5" text-anchor="middle">3V3</text>
<text x="17" y="221" font-size="5.5" text-anchor="start">ST+4.3T LUNIT</text>
<text x="38" y="62.5" font-size="8" text-anchor="start">VCC</text>
<text x="38" y="79.43" font-size="8" text-anchor="start">GND</text>
<text x="38" y="96.36" font-size="8" text-anchor="start">RXD</text>
<text x="38" y="113.28999999999999" font-size="8" text-anchor="start">TXD</text>
<text x="656" y="97.5" font-size="8" text-anchor="end">TX1</text>
<text x="656" y="114.43" font-size="8" text-anchor="end">RX1</text>
<text x="656" y="131.36" font-size="8" text-anchor="end">GND</text>
<text x="656" y="148.29" font-size="8" text-anchor="end">VCC</text>
<text x="651" y="404.0" font-size="8" text-anchor="end">AO</text>
<text x="651" y="420.93" font-size="8" text-anchor="end">DO</text>
<text x="651" y="437.86" font-size="8" text-anchor="end">GND</text>
<text x="651" y="454.79" font-size="8" text-anchor="end">VCC</text>
<text x="47" y="491.0" font-size="8" text-anchor="start">VCC</text>
<text x="47" y="507.93" font-size="8" text-anchor="start">GND</text>
<text x="47" y="524.86" font-size="8" text-anchor="start">SDA</text>
<text x="47" y="541.79" font-size="8" text-anchor="start">SCL</text>
<text transform="translate(215.2,34) rotate(90)" font-size="7" text-anchor="start">GND</text>
<text transform="translate(232.13,34) rotate(90)" font-size="7" text-anchor="start">VCC</text>
<text transform="translate(249.06,34) rotate(90)" font-size="7" text-anchor="start">SCL</text>
<text transform="translate(265.99,34) rotate(90)" font-size="7" text-anchor="start">SDA</text>
<text transform="translate(484.5,30.5) rotate(90)" font-size="7" text-anchor="start">VCC</text>
<text transform="translate(501.43,30.5) rotate(90)" font-size="7" text-anchor="start">GND</text>
<text transform="translate(518.36,30.5) rotate(90)" font-size="7" text-anchor="start">RXD</text>
<text transform="translate(535.29,30.5) rotate(90)" font-size="7" text-anchor="start">TXD</text>
<text transform="translate(232.5,436) rotate(-90)" font-size="6.5" text-anchor="start">VCC</text>
<text transform="translate(249.43,436) rotate(-90)" font-size="6.5" text-anchor="start">GND</text>
<text transform="translate(266.36,436) rotate(-90)" font-size="6.5" text-anchor="start">OUT</text>
<text transform="translate(76.2,644) rotate(-90)" font-size="6.5" text-anchor="start">5V</text>
<text transform="translate(93.13,644) rotate(-90)" font-size="6.5" text-anchor="start">GND</text>
<text transform="translate(110.06,644) rotate(-90)" font-size="6.5" text-anchor="start">IN</text>
<text transform="translate(126.99000000000001,644) rotate(-90)" font-size="6.5" text-anchor="start">1</text>
<text x="31" y="45.7" font-size="6.5" text-anchor="start">S_CH3</text>
<text x="668.8" y="70.8" font-size="5.8" text-anchor="middle">S_CH1</text>
<text transform="translate(469,27.5) rotate(-90)" font-size="6.5" text-anchor="start">S_CH2</text>
</g>
<g fill="none" stroke="#10fad6" stroke-width="5.9" stroke-linecap="round" stroke-linejoin="round">
<path d="M16.5,74 L26.2,33.5 L36,74.5 L48.9,33.5 L57.5,74.5"/>
<path d="M95,40 L94.5,35 C88,34 80,37 75,44 C70,51 68.5,60 70,66 C72,72 76,74 80,74 C85,74 90,71 93,68"/>
<path d="M106.5,35 L106.5,58 C106.5,70 112,75 120,75 C130,75 136,68 136.5,58 L137,35"/>
<path d="M168,50 C165,47.5 162,47 159.5,47 C153,47 149,54 149,61 C149,69 153,74.5 159.5,74.5 C163,74.5 166,73 168.2,71.3"/>
<path d="M182.9,31.5 L182.9,74.5"/>
<path d="M196.5,48 L197,64 C197.5,71 201,75 206.5,75 C212,75 215.5,71 215.5,65 L215.8,48.5 L215.3,75.3"/>
<path d="M228.4,33.5 L228.4,75 M228.4,58 C230,51 235,48.5 241,48.5 C248,48.5 251,54 251,61 C251,70 245,75.5 239,75.5 C234,75.5 230,73 228.4,70"/>
</g>
</svg></body></html>
